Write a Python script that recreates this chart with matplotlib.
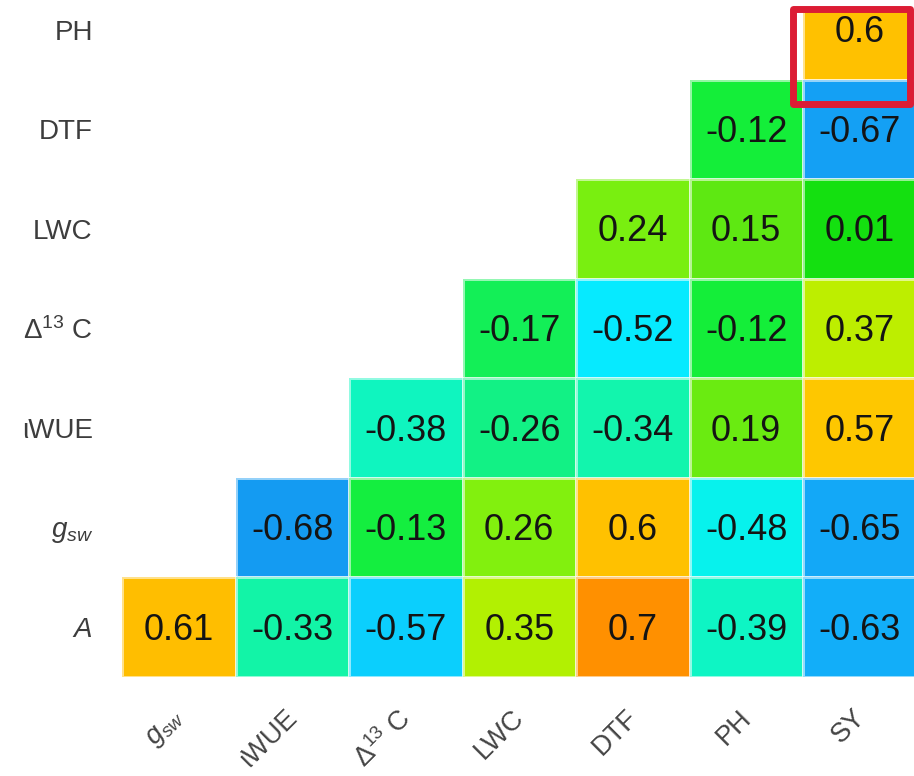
import numpy as np
import matplotlib
matplotlib.use("Agg")
import matplotlib.pyplot as plt
import matplotlib.colors as mcolors
from matplotlib.patches import Rectangle
from matplotlib.transforms import ScaledTranslation

plt.rcParams["font.family"] = ["Liberation Sans", "DejaVu Sans"]
plt.rcParams["mathtext.fontset"] = "custom"
plt.rcParams["mathtext.rm"] = "Liberation Sans"
plt.rcParams["mathtext.it"] = "Liberation Sans:italic"

row_labels = ["PH", "DTF", "LWC", "Δ$^{13}$ C", "ιWUE", "$g_{sw}$", "$A$"]
col_labels = ["$g_{sw}$", "ιWUE", "Δ$^{13}$ C", "LWC", "DTF", "PH", "SY"]

nan = np.nan
r_ph = [nan, nan, nan, nan, nan, nan, 0.6]
r_dtf = [nan, nan, nan, nan, nan, -0.12, -0.67]
r_lwc = [nan, nan, nan, nan, 0.24, 0.15, 0.01]
r_d13c = [nan, nan, nan, -0.17, -0.52, -0.12, 0.37]
r_iwue = [nan, nan, -0.38, -0.26, -0.34, 0.19, 0.57]
r_gsw = [nan, -0.68, -0.13, 0.26, 0.6, -0.48, -0.65]
r_a = [0.61, -0.33, -0.57, 0.35, 0.7, -0.39, -0.63]

corr = np.array([r_ph, r_dtf, r_lwc, r_d13c, r_iwue, r_gsw, r_a])

# blue -> cyan -> green -> yellow -> orange
stops = [
    (-0.70, "#1595f0"), (-0.63, "#12b0fa"), (-0.52, "#05ecff"),
    (-0.45, "#08f6e0"), (-0.35, "#12f5b0"), (-0.25, "#12f080"),
    (-0.12, "#14ee3a"), (0.00, "#10e010"), (0.15, "#5ee812"),
    (0.25, "#7cf010"), (0.36, "#b8f000"), (0.48, "#f0dc00"),
    (0.58, "#ffc600"), (0.62, "#ffbc00"), (0.70, "#ff9000"),
]
vmin, vmax = -0.7, 0.7
cmap = mcolors.LinearSegmentedColormap.from_list(
    "corr", [((v - vmin) / (vmax - vmin), c) for v, c in stops]
)
norm = mcolors.Normalize(vmin, vmax)

fig = plt.figure(figsize=(9.14, 7.76), dpi=100)
ax = fig.add_axes([122 / 914, 1 - 677 / 776, 794.5 / 914, 667 / 776])

n = len(col_labels)
edges = np.arange(n + 1) - 0.5
ax.pcolormesh(edges, edges, np.ma.masked_invalid(corr), cmap=cmap, norm=norm,
              edgecolors=(1, 1, 1, 0.55), linewidth=0.8)

for i in range(n):
    for j in range(n):
        v = corr[i, j]
        if np.isnan(v):
            continue
        ax.text(j, i + 0.03, f"{v:g}", ha="center", va="center",
                fontsize=26, color="#141414")

ax.set_xlim(-0.5, n - 0.5)
ax.set_ylim(n - 0.5, -0.5 + 30 / 99.5)

ax.set_xticks(range(n))
ax.set_xticklabels(col_labels, rotation=45, ha="right", va="top",
                   rotation_mode="anchor", fontsize=19.5, color="#444444")
ax.set_yticks(range(n))
ax.set_yticklabels(row_labels, fontsize=20, color="#3d3d3d")
ax.tick_params(length=0)
ax.tick_params(axis="y", pad=21)
ax.tick_params(axis="x", pad=20)
for lbl in ax.get_xticklabels():
    lbl.set_transform(lbl.get_transform()
                      + ScaledTranslation(-8 / 100, 0, fig.dpi_scale_trans))
for s in ax.spines.values():
    s.set_visible(False)

# highlight box around the PH / SY cell
ax.add_patch(Rectangle((5.41, -0.21), 1.03, 0.96, fill=False,
                       edgecolor="#dc1c34", linewidth=5, joinstyle="round",
                       clip_on=False, zorder=5))

fig.savefig("out.png", dpi=100)
